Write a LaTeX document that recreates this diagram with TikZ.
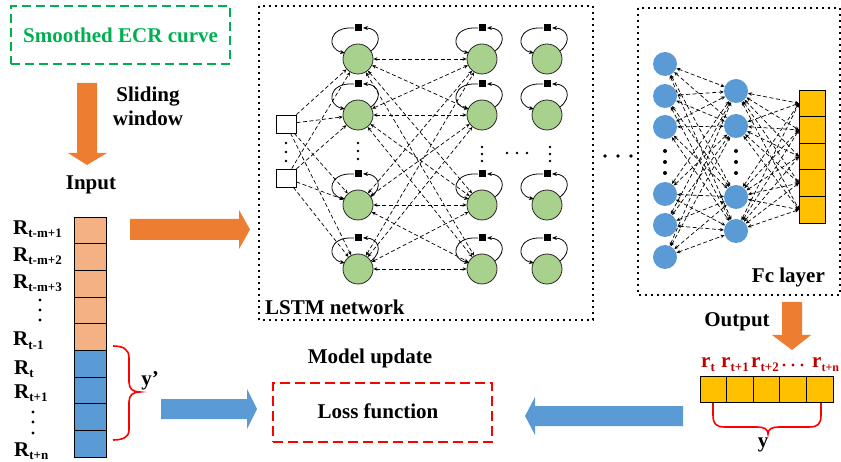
\documentclass[tikz,border=0pt]{standalone}
\usepackage{fontspec}
\setmainfont{Liberation Serif}
\usetikzlibrary{arrows.meta,calc}

\definecolor{ecrgreen}{HTML}{00B050}
\definecolor{arrorange}{HTML}{ED7D31}
\definecolor{cellorange}{HTML}{F4B183}
\definecolor{cellblue}{HTML}{5B9BD5}
\definecolor{nodegreen}{HTML}{A9D18E}
\definecolor{fcyellow}{HTML}{FFC000}
\definecolor{lossred}{HTML}{FF0000}
\definecolor{labelred}{HTML}{C00000}

% lowered subscript for the sequence labels
\newcommand\sub[1]{\raisebox{-3pt}{\fontsize{13}{13}\selectfont #1}}
\newcommand\subs[1]{\raisebox{-3pt}{\fontsize{12}{12}\selectfont #1}}

\tikzset{
  selfloop/.pic={
    \draw[line width=0.8pt,-{Stealth[length=5pt,width=4pt]}]
      (13,-8) .. controls (26,-18) and (20,-31) .. (5,-31);
    \draw[line width=0.8pt,-{Stealth[length=5pt,width=4pt]}]
      (-4,-31) .. controls (-30,-33) and (-32,-10) .. (-13,-6);
    \fill (-3.5,-34.5) rectangle (3.5,-27.5);
  }
}

\begin{document}
\begin{tikzpicture}[x=1pt,y=-1pt,
  lbl/.style={font=\fontsize{21}{24}\selectfont\bfseries, inner sep=0pt},
  lstm/.style={circle, draw=black!85, line width=0.8pt, fill=nodegreen, minimum size=30pt, inner sep=0pt},
  fcn/.style={circle, fill=cellblue, minimum size=24pt, inner sep=0pt},
  inbox/.style={draw, line width=0.8pt, fill=white, minimum width=20pt, minimum height=18pt, inner sep=0pt},
  seqcell/.style={draw, line width=0.9pt, minimum width=32pt, minimum height=26.67pt, inner sep=0pt, outer sep=0pt},
  ycell/.style={draw, line width=0.9pt, fill=fcyellow, minimum width=26pt, minimum height=26.6pt, inner sep=0pt, outer sep=0pt},
  ocell/.style={draw, line width=0.9pt, fill=fcyellow, minimum width=26.6pt, minimum height=26pt, inner sep=0pt, outer sep=0pt},
  link/.style={dash pattern=on 4pt off 2.5pt, line width=0.7pt,
    arrows={Stealth[length=4pt,width=3.5pt]-Stealth[length=4pt,width=3.5pt]}},
  linkin/.style={dash pattern=on 4pt off 2.5pt, line width=0.7pt,
    arrows={-Stealth[length=4pt,width=3.5pt]}},
  dotbox/.style={line width=2pt, dash pattern=on 2pt off 4pt},
]
\useasboundingbox (0,0) rectangle (841,462);

% ---------- source curve and sliding window ----------
\node[draw=ecrgreen, line width=2.2pt, dash pattern=on 9pt off 5pt,
      minimum width=219pt, minimum height=58pt, inner sep=0pt,
      text=ecrgreen, font=\fontsize{21}{24}\selectfont\bfseries] (ecr) at (120.5,35) {Smoothed ECR curve};
\fill[arrorange] (77,83) -- (97,83) -- (97,153) -- (107,153) -- (87,165) -- (68,153) -- (77,153) -- cycle;
\node[lbl, anchor=base] (slide1) at (148,102) {Sliding};
\node[lbl, anchor=base] (slide2) at (148,126) {window};
\node[lbl, anchor=base] (inlbl) at (91,190) {Input};

% ---------- input sequence column ----------
\foreach \k in {1,...,5}
  \node[seqcell, fill=cellorange] (q\k) at (90,{217+13.33+26.67*(\k-1)}) {};
\foreach \k in {6,...,9}
  \node[seqcell, fill=cellblue] (q\k) at (90,{217+13.33+26.67*(\k-1)}) {};

\node[lbl, anchor=base west] (r1) at (13,235) {R\sub{t-m+1}};
\node[lbl, anchor=base west] (r2) at (13,262) {R\sub{t-m+2}};
\node[lbl, anchor=base west] (r3) at (13,289) {R\sub{t-m+3}};
\node[lbl, anchor=base west] (r4) at (13,346) {R\sub{t-1}};
\node[lbl, anchor=base west] (r5) at (14,374) {R\sub{t}};
\node[lbl, anchor=base west] (r6) at (14,399) {R\sub{t+1}};
\node[lbl, anchor=base west] (r7) at (14,456) {R\sub{t+n}};
\foreach \yy in {300,310,320} \fill (40,\yy) circle[radius=1.6];
\foreach \yy in {412,422,433} \fill (33,\yy) circle[radius=1.6];

% brace marking the target part of the window
\draw[lossred, line width=1.6pt]
  (113,346) .. controls (123,346) and (129,349) .. (129,358) -- (129,382)
  .. controls (129,389) and (133,392) .. (140,392)
  .. controls (133,392) and (129,395) .. (129,402) -- (129,430)
  .. controls (129,437) and (123,440) .. (113,440);
\node[lbl, anchor=center] (yprime) at (150,381) {y'};

% block arrows on the left
\fill[arrorange] (130,219) -- (239,219) -- (239,210) -- (250,229.5) -- (239,249) -- (239,240) -- (130,240) -- cycle;
\fill[cellblue] (161,399) -- (247,399) -- (247,389) -- (257,409) -- (247,429) -- (247,419) -- (161,419) -- cycle;

% ---------- LSTM network ----------
\draw[dotbox] (259,6) rectangle (593,320);
\node[lbl, anchor=base west] (lstmlbl) at (265,315) {LSTM network};

\node[inbox] (in1) at (286,124) {};
\node[inbox] (in2) at (286,178) {};
\foreach \yy in {143,152,161} \fill (286,\yy) circle[radius=1.3];

\foreach \c/\xx in {1/358,2/482,3/547}{
  \node[lstm] (c\c a) at (\xx,59) {};
  \node[lstm] (c\c b) at (\xx,115) {};
  \node[lstm] (c\c c) at (\xx,205) {};
  \node[lstm] (c\c d) at (\xx,269) {};
  \foreach \r in {a,b,c,d} \pic at (c\c\r) {selfloop};
}
\foreach \yy in {143,151,159} \fill (358,\yy) circle[radius=1.3];
\foreach \yy in {147,154,161} \fill (482,\yy) circle[radius=1.3];
\foreach \yy in {147,154,161} \fill (550,\yy) circle[radius=1.3];
\foreach \xx in {507,517,527} \fill (\xx,153) circle[radius=1.3];

\foreach \i in {1,2}
  \foreach \j in {a,b,c,d}
    \draw[linkin] (in\i) -- (c1\j);
\foreach \i in {a,b,c,d}
  \foreach \j in {a,b,c,d}
    \draw[link] (c1\i) -- (c2\j);

% dots between the two stages
\foreach \xx in {605,618,631} \fill (\xx,156) circle[radius=1.8];

% ---------- fully connected layer ----------
\draw[dotbox] (638,8) rectangle (840,295);
\node[lbl, anchor=base east] (fclbl) at (825,283) {Fc layer};

\foreach \k/\yy in {1/64,2/96,3/127,4/194,5/225,6/257}
  \node[fcn] (f\k) at (665,\yy) {};
\foreach \k/\yy in {1/91,2/126,3/197,4/231}
  \node[fcn] (m\k) at (736,\yy) {};
\foreach \k in {1,...,5}
  \node[ycell] (yc\k) at (812,{90+13.3+26.6*(\k-1)}) {};
\foreach \yy in {151,162,173} {
  \fill (665,\yy) circle[radius=2];
  \fill (736,\yy) circle[radius=2];
}
\foreach \i in {1,...,6}
  \foreach \j in {1,...,4}
    \draw[link] (f\i) -- (m\j);
\foreach \j in {1,...,4}
  \foreach \k in {1,...,5}
    \draw[link] (m\j) -- (yc\k.west);

% ---------- output and loss ----------
\node[lbl, anchor=base] (outlbl) at (737,327) {Output};
\fill[arrorange] (782,302) -- (802,302) -- (802,335) -- (811,335) -- (792,350) -- (772,335) -- (782,335) -- cycle;

\foreach \k in {1,...,5}
  \node[ocell] (oc\k) at ({700+13.3+26.6*(\k-1)},389) {};

\begin{scope}[labelred]
\node[lbl, anchor=base west] (o1) at (701,368) {r\sub{t}};
\node[lbl, anchor=base west] (o2) at (721,368) {r\sub{t+1}};
\node[lbl, anchor=base west] (o3) at (751,368) {r\sub{t+2}};
\node[lbl, anchor=base west] (o4) at (812,368) {r\subs{t+n}};
\foreach \xx in {784,793,802} \fill (\xx,365) circle[radius=1.6];
\end{scope}

\draw[lossred, line width=1.6pt]
  (713,403) -- (713,415) .. controls (713,424) and (716,427) .. (725,427) -- (757,427)
  .. controls (764,427) and (768,429) .. (768,434)
  .. controls (768,429) and (772,427) .. (779,427) -- (809,427)
  .. controls (818,427) and (821,424) .. (821,415) -- (821,403);
\node[lbl, anchor=base] (ylbl) at (763,447) {y};

\fill[cellblue] (683,406) -- (535,406) -- (535,397) -- (525,416) -- (535,435) -- (535,426) -- (683,426) -- cycle;

\node[draw=lossred, line width=2.2pt, dash pattern=on 10pt off 5pt,
      minimum width=219pt, minimum height=59pt, inner sep=0pt] (loss) at (382.5,412.5) {};
\node[lbl, anchor=base] (losslbl) at (378,418) {Loss function};
\node[lbl, anchor=base] (update) at (370,363) {Model update};

\end{tikzpicture}
\end{document}
